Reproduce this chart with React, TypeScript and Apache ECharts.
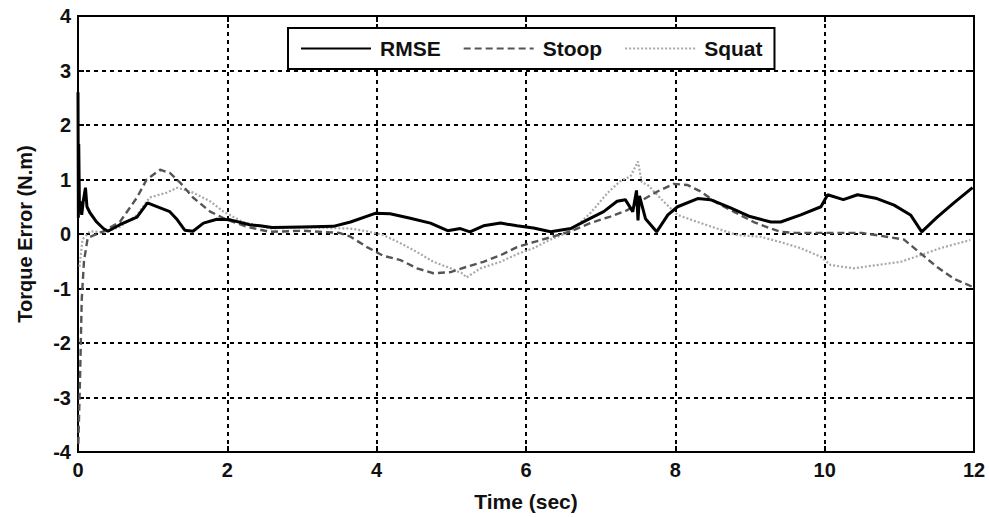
import React, { useEffect, useRef } from "react";
import * as echarts from "echarts";

const xTicks = [0, 2, 4, 6, 8, 10, 12];
const yTicks = [-4, -3, -2, -1, 0, 1, 2, 3, 4];

const rmseT = [0, 0.005, 0.01, 0.02, 0.03, 0.05, 0.07, 0.1, 0.12, 0.16, 0.25, 0.34, 0.4, 0.56, 0.79, 0.93, 1.1, 1.23, 1.33, 1.43, 1.54, 1.68, 1.86, 2.04, 2.3, 2.44, 2.6, 3.0, 3.42, 3.65, 3.98, 4.18, 4.45, 4.72, 4.95, 5.12, 5.25, 5.43, 5.66, 5.88, 6.1, 6.33, 6.6, 6.82, 7.04, 7.22, 7.33, 7.43, 7.48, 7.5, 7.52, 7.6, 7.75, 7.9, 8.03, 8.3, 8.47, 8.74, 9.0, 9.14, 9.28, 9.41, 9.68, 9.95, 10.04, 10.25, 10.44, 10.7, 10.93, 11.15, 11.3, 11.5, 11.73, 11.98];
const rmseV = [2.6, 0.3, 1.65, 0.4, 0.6, 0.35, 0.6, 0.85, 0.5, 0.39, 0.22, 0.1, 0.05, 0.17, 0.31, 0.57, 0.48, 0.41, 0.26, 0.07, 0.05, 0.2, 0.27, 0.26, 0.17, 0.15, 0.12, 0.13, 0.14, 0.22, 0.38, 0.37, 0.29, 0.2, 0.06, 0.1, 0.04, 0.15, 0.2, 0.15, 0.11, 0.04, 0.1, 0.26, 0.41, 0.6, 0.63, 0.41, 0.8, 0.25, 0.7, 0.28, 0.04, 0.35, 0.5, 0.65, 0.63, 0.48, 0.32, 0.27, 0.22, 0.22, 0.35, 0.5, 0.72, 0.63, 0.72, 0.65, 0.53, 0.35, 0.04, 0.3, 0.57, 0.85];

const stoopT = [0.005, 0.03, 0.05, 0.08, 0.13, 0.34, 0.56, 0.79, 0.92, 1.1, 1.23, 1.37, 1.54, 1.77, 2.0, 2.27, 2.57, 3.02, 3.5, 3.65, 3.87, 4.09, 4.32, 4.54, 4.76, 4.99, 5.21, 5.43, 5.66, 5.88, 6.1, 6.33, 6.6, 6.86, 7.13, 7.36, 7.53, 7.76, 7.98, 8.16, 8.34, 8.56, 8.78, 9.05, 9.28, 9.41, 9.6, 10.0, 10.5, 11.06, 11.28, 11.5, 11.73, 11.98];
const stoopV = [-3.85, -2.5, -1.2, -0.5, -0.07, 0.05, 0.22, 0.67, 1.0, 1.18, 1.12, 0.94, 0.67, 0.41, 0.26, 0.13, 0.04, 0.06, 0.02, -0.05, -0.24, -0.4, -0.48, -0.63, -0.72, -0.7, -0.6, -0.51, -0.39, -0.24, -0.15, -0.06, 0.05, 0.2, 0.32, 0.44, 0.6, 0.78, 0.92, 0.9, 0.78, 0.57, 0.41, 0.22, 0.1, 0.04, 0.02, 0.02, 0.02, -0.1, -0.35, -0.6, -0.82, -0.97];

const squatT = [0.02, 0.06, 0.16, 0.34, 0.56, 0.79, 0.96, 1.19, 1.33, 1.54, 1.77, 1.95, 2.21, 2.57, 3.02, 3.65, 3.87, 4.09, 4.32, 4.54, 4.76, 4.99, 5.16, 5.2, 5.39, 5.66, 5.88, 6.1, 6.33, 6.6, 6.86, 7.09, 7.26, 7.4, 7.5, 7.55, 7.63, 7.84, 8.03, 8.3, 8.56, 8.83, 9.14, 9.41, 9.68, 9.95, 10.08, 10.39, 10.7, 11.02, 11.28, 11.55, 11.95];
const squatV = [-0.6, -0.1, 0.05, 0.03, 0.13, 0.35, 0.67, 0.76, 0.85, 0.76, 0.6, 0.41, 0.22, 0.1, 0.12, 0.1, 0.05, -0.02, -0.17, -0.33, -0.51, -0.63, -0.73, -0.8, -0.63, -0.51, -0.37, -0.26, -0.1, 0.05, 0.38, 0.75, 0.97, 1.06, 1.33, 0.95, 0.9, 0.6, 0.35, 0.22, 0.1, -0.02, -0.05, -0.15, -0.26, -0.42, -0.57, -0.63, -0.57, -0.51, -0.39, -0.26, -0.11];

const seriesNames = ["RMSE", "Stoop", "Squat"];

const FONT = "Liberation Sans, Arial, sans-serif";

function pairs(t: number[], v: number[]) {
  return t.map((x, i) => [x, v[i]]);
}

export default function App() {
  const ref = useRef<HTMLDivElement>(null);
  useEffect(() => {
    if (!ref.current) return;
    const chart = echarts.init(ref.current, undefined, { renderer: "svg" });
    const gridLine = { show: true, lineStyle: { color: "#000", width: 2, type: [4, 4] as any } };
    const labelStyle = { color: "#111", fontFamily: FONT, fontWeight: "bold" as const, fontSize: 20 };
    const tick = { show: true, inside: true, length: 6, lineStyle: { color: "#000", width: 2 } };
    const line = { show: true, onZero: false, lineStyle: { color: "#000", width: 2 } };
    chart.setOption({
      animation: false,
      backgroundColor: "#fff",
      grid: { left: 78, right: 15, top: 16, bottom: 64, show: true, borderColor: "#000", borderWidth: 2 },
      legend: {
        data: seriesNames,
        left: 288,
        top: 28,
        padding: [10, 12, 10, 12],
        itemGap: 22,
        itemWidth: 70,
        itemHeight: 14,
        borderColor: "#000",
        borderWidth: 2,
        backgroundColor: "#fff",
        itemStyle: { color: "transparent", borderColor: "transparent", borderWidth: 0, opacity: 0 },
        textStyle: { color: "#111", fontFamily: FONT, fontWeight: "bold", fontSize: 21, padding: [0, 0, 0, 4] },
      },
      xAxis: [
        {
          type: "value",
          min: xTicks[0],
          max: xTicks[xTicks.length - 1],
          interval: 2,
          name: "Time (sec)",
          nameLocation: "middle",
          nameGap: 39,
          nameTextStyle: { ...labelStyle, fontSize: 21 },
          axisLine: line,
          axisTick: tick,
          axisLabel: { ...labelStyle, margin: 8 },
          splitLine: gridLine,
        },
        {
          type: "value",
          position: "top",
          min: xTicks[0],
          max: xTicks[xTicks.length - 1],
          interval: 2,
          axisLine: line,
          axisTick: tick,
          axisLabel: { show: false },
          splitLine: { show: false },
        },
      ],
      yAxis: [
        {
          type: "value",
          min: yTicks[0],
          max: yTicks[yTicks.length - 1],
          interval: 1,
          name: "Torque Error (N.m)",
          nameLocation: "middle",
          nameGap: 43,
          nameTextStyle: { ...labelStyle, fontSize: 20 },
          axisLine: line,
          axisTick: tick,
          axisLabel: { ...labelStyle, margin: 7 },
          splitLine: gridLine,
        },
        {
          type: "value",
          position: "right",
          min: yTicks[0],
          max: yTicks[yTicks.length - 1],
          interval: 1,
          axisLine: line,
          axisTick: tick,
          axisLabel: { show: false },
          splitLine: { show: false },
        },
      ],
      series: [
        {
          name: seriesNames[2],
          type: "line",
          data: pairs(squatT, squatV),
          symbol: "none",
          z: 2,
          lineStyle: { color: "#a8a8a8", width: 2.2, type: [2, 2] },
          itemStyle: { color: "#a8a8a8" },
        },
        {
          name: seriesNames[1],
          type: "line",
          data: pairs(stoopT, stoopV),
          symbol: "none",
          z: 3,
          lineStyle: { color: "#555", width: 2.4, type: [7, 4] },
          itemStyle: { color: "#555" },
        },
        {
          name: seriesNames[0],
          type: "line",
          data: pairs(rmseT, rmseV),
          symbol: "none",
          z: 4,
          lineStyle: { color: "#000", width: 3 },
          itemStyle: { color: "#000" },
        },
      ],
    });
    return () => chart.dispose();
  }, []);
  return (
    <div
      ref={ref}
      style={{ position: "fixed", left: 0, top: 0, width: 989, height: 517, background: "#fff" }}
    />
  );
}
